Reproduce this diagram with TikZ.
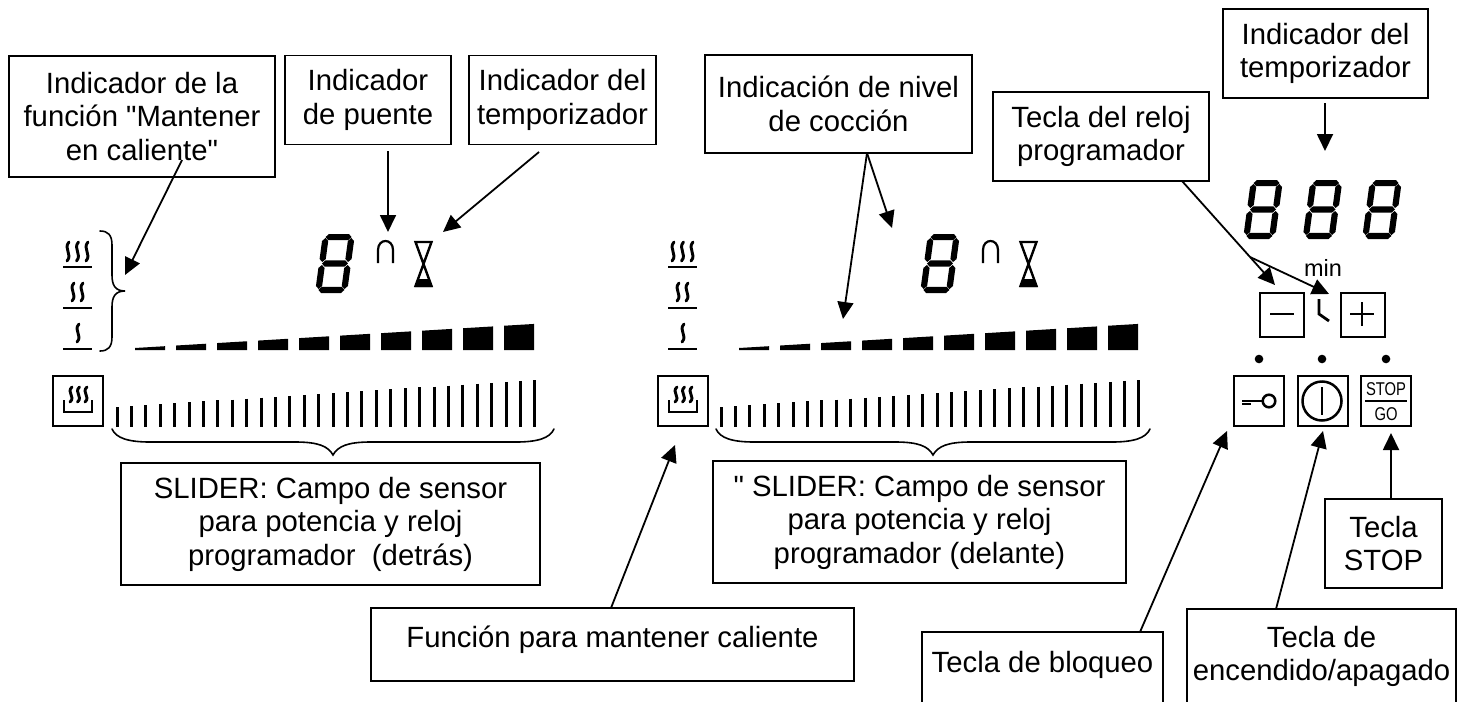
\documentclass[tikz,border=0pt]{standalone}
\usepackage{fontspec}
\setmainfont{Liberation Sans}
\newfontfamily\plainsans{Liberation Sans}
\usetikzlibrary{arrows.meta}
\tikzset{
  x=1pt,y=-1pt,
  labelbox/.style={draw=black,line width=1.9pt,rectangle,inner sep=0pt,outer sep=0pt,align=center,
     font=\plainsans\fontsize{29.3}{33.5}\selectfont,text=black},
  pointer/.style={draw=black,line width=1.8pt,-{Triangle[length=17pt,width=16pt]},shorten >=0pt},
  bracepath/.style={draw=black,line width=1.6pt,line cap=round},
  keybox/.style={draw=black,line width=2.7pt,fill=none},
  icon/.style={draw=black,line width=2.8pt},
  sliderline/.style={draw=black,line width=3pt},
}
% seven-segment digit, (#1,#2) = bottom-left corner
\newcommand\hsegm[3]{\fill (#1,#3) -- ++(3,-3.1) -- (#2-3,#3-3.1) -- (#2,#3) -- (#2-3,#3+3.1) -- (#1+3,#3+3.1) -- cycle;}
\newcommand\vsegm[3]{\fill (#1,#2) -- (#1+3.1,#2+3) -- (#1+3.1,#3-3) -- (#1,#3) -- (#1-3.1,#3-3) -- (#1-3.1,#2+3) -- cycle;}
\newcommand\dispdigit[2]{\begin{scope}[shift={(#1,#2)},xslant=.135]
  \hsegm{3}{29}{-55.9}\hsegm{3}{29}{-29.5}\hsegm{3}{29}{-3.1}
  \vsegm{3.1}{-55}{-31}\vsegm{28.9}{-55}{-31}\vsegm{3.1}{-28}{-4}\vsegm{28.9}{-28}{-4}
\end{scope}}
\newcommand\steamwave[3]{\draw[line width=2.9pt,line cap=round] (#1+1,#2) .. controls (#1-5,#2+.36*#3-.36*#2) and (#1+5,#2+.64*#3-.64*#2) .. (#1-1,#3);}
\newcommand\steamstack[1]{\begin{scope}[shift={(#1,0)}]
  \draw[icon] (63,267) -- (92,267); \draw[icon] (63,308) -- (92,308); \draw[icon] (63,349) -- (92,349);
  \steamwave{68}{242}{261}\steamwave{77.5}{242}{261}\steamwave{87}{242}{261}
  \steamwave{73}{283}{301}\steamwave{82}{283}{301}
  \steamwave{78}{324}{342}
  \draw[keybox] (53,376) rectangle (103,426);
  \steamwave{71}{387}{402}\steamwave{78.5}{387}{402}\steamwave{86}{387}{402}
  \draw[line width=2.5pt] (64,400) -- (64,412) -- (92,412) -- (92,400);
\end{scope}}
\newcommand\wedgebars[1]{\foreach \i in {0,...,9}{
  \pgfmathsetmacro\xl{#1+41*\i}\pgfmathsetmacro\xr{\xl+30}
  \pgfmathsetmacro\yl{348-0.0603*41*\i}\pgfmathsetmacro\yr{\yl-1.8}
  \fill (\xl,350) -- (\xl,\yl) -- (\xr,\yr) -- (\xr,350) -- cycle;}}
\newcommand\sliderlines[1]{\foreach \i in {0,...,29}{
  \pgfmathsetmacro\xs{#1+14.41*\i}\pgfmathsetmacro\yt{407-27*\i/29}
  \draw[sliderline] (\xs,\yt) -- (\xs,427);}}
\newcommand\lowbrace[3]{\draw[bracepath] (#1,429) .. controls (#1+4,438) and (#1+16,442) .. (#1+38,442)
  -- (#2-38,442) .. controls (#2-15,442) and (#2-5,446) .. (#2,455) .. controls (#2+5,446) and (#2+15,442) .. (#2+38,442)
  -- (#3-38,442) .. controls (#3-16,442) and (#3-4,438) .. (#3,429);}
\newcommand\bridgeglass[1]{\begin{scope}[shift={(#1,0)}]
  \draw[line width=2.2pt] (378,263) -- (378,250) .. controls (378,238) and (393,238) .. (393,250) -- (393,263);
  \draw[line width=2.4pt,line join=miter] (415.5,242) -- (431.5,242) -- (415.5,286) -- (431.5,286) -- cycle;
  \fill (418.5,279) -- (428.5,279) -- (432.5,287) -- (414.5,287) -- cycle;
\end{scope}}
\begin{document}
\begin{tikzpicture}
\clip (0,0) rectangle (1463,701);
\useasboundingbox (0,0) rectangle (1463,701);
% display elements, left zone
\steamstack{0}
\draw[bracepath] (100,231) .. controls (108,231) and (112,235) .. (112,245) -- (112,275)
  .. controls (112,285) and (115,291) .. (125,291) .. controls (115,291) and (112,297) .. (112,307)
  -- (112,337) .. controls (112,347) and (108,351) .. (100,351);
\dispdigit{315}{293}
\bridgeglass{0}
\wedgebars{135}
\sliderlines{117}
\lowbrace{112}{333}{554}
% display elements, centre zone
\steamstack{605}
\dispdigit{920}{293}
\bridgeglass{605}
\wedgebars{739}
\sliderlines{721}
\lowbrace{716}{933}{1150}
% right control field
\dispdigit{1243}{239}
\dispdigit{1302.5}{239}
\dispdigit{1362}{239}
\node[inner sep=0pt,font=\fontsize{23.5}{23.5}\selectfont] (minlabel) at (1323,268) {min};
\draw[keybox,line width=2.3pt] (1260,293) rectangle (1304,337);
\draw[icon] (1270,314) -- (1294,314);
\draw[keybox,line width=2.3pt] (1341,293) rectangle (1385,337);
\draw[icon] (1350,314) -- (1374,314) (1362,302) -- (1362,326);
\draw[icon] (1319,299) -- (1319,314) -- (1329,321);
\fill (1259,359) circle (4.3) (1322,359) circle (4.3) (1386,359) circle (4.3);
\draw[keybox] (1234,376) rectangle (1284,426);
\draw[line width=2.5pt] (1269,401) circle (6.3);
\draw[line width=2.5pt] (1242,401) -- (1263,401);
\draw[line width=2.5pt] (1242,404) -- (1251,404);
\draw[keybox] (1298,376) rectangle (1348,426);
\draw[line width=2.5pt] (1322,401) circle (19.5);
\draw[line width=2.5pt] (1322,387) -- (1322,415);
\draw[keybox] (1361,376) rectangle (1411,426);
\node[inner sep=0pt,font=\fontsize{18.5}{18.5}\selectfont] (stoplabel) at (1386,389) {\scalebox{.8}[1]{STOP}};
\draw[line width=1.6pt] (1365,401) -- (1407,401);
\node[inner sep=0pt,font=\fontsize{18.5}{18.5}\selectfont] (golabel) at (1386,414) {\scalebox{.8}[1]{GO}};
% label boxes
\node[labelbox,minimum width=266pt,minimum height=121pt] (mantener) at (142,116.5) {Indicador de la\\función "Mantener\\en caliente"};
\node[labelbox,minimum width=166pt,minimum height=89pt] (puente) at (368,100) {Indicador\\de puente};
\node[labelbox,minimum width=187pt,minimum height=89pt] (tempa) at (562.5,100) {Indicador del\\temporizador};
\node[labelbox,minimum width=267pt,minimum height=98pt] (nivel) at (838.5,104) {Indicación de nivel\\de cocción};
\node[labelbox,minimum width=216pt,minimum height=89pt] (reloj) at (1101,136.5) {Tecla del reloj\\programador};
\node[labelbox,minimum width=205pt,minimum height=89pt] (tempb) at (1325.5,53.5) {Indicador del\\temporizador};
\node[labelbox,minimum width=419pt,minimum height=122pt] (sliderA) at (330.5,524) {SLIDER: Campo de sensor\\para potencia y reloj\\programador\ \ (detrás)};
\node[labelbox,minimum width=413pt,minimum height=122pt] (sliderB) at (919.5,522) {" SLIDER: Campo de sensor\\para potencia y reloj\\programador (delante)};
\node[labelbox,minimum width=483pt,minimum height=73pt] (funcion) at (612.5,644.5) {Función para mantener caliente\\[-17pt]~};
\node[labelbox,minimum width=241pt,minimum height=126pt] (bloqueo) at (1042.5,695) {Tecla de bloqueo\\~\\~};
\node[labelbox,minimum width=269pt,minimum height=122pt] (encendido) at (1321.5,670) {Tecla de\\encendido/apagado\\~};
\node[labelbox,minimum width=117pt,minimum height=89pt] (stopkey) at (1383.5,543.5) {Tecla\\STOP};
% connector ends
\coordinate (mantS) at (182,160);   \coordinate (mantT) at (125,275);
\coordinate (puenS) at (388,151);   \coordinate (puenT) at (388,232);
\coordinate (tempaS) at (539,152);  \coordinate (tempaT) at (443,232);
\coordinate (nivS) at (867,153);    \coordinate (nivT1) at (843,319); \coordinate (nivT2) at (892,228);
\coordinate (relS) at (1182,181);   \coordinate (relE) at (1250,257);
\coordinate (relT1) at (1275,285);  \coordinate (relT2) at (1329,294);
\coordinate (tempbS) at (1325,103); \coordinate (tempbT) at (1325,151);
\coordinate (funS) at (611,608);    \coordinate (funT) at (675,445);
\coordinate (bloS) at (1140,632);   \coordinate (bloT) at (1227,431);
\coordinate (encS) at (1276,609);   \coordinate (encT) at (1323,431);
\coordinate (stoS) at (1391,499);   \coordinate (stoT) at (1391,433);
% connectors
\draw[pointer] (mantS) -- (mantT);
\draw[pointer] (puenS) -- (puenT);
\draw[pointer] (tempaS) -- (tempaT);
\draw[pointer] (nivS) -- (nivT1);
\draw[pointer] (nivS) -- (nivT2);
\draw[draw=black,line width=1.8pt] (relS) -- (relE);
\draw[pointer] (relE) -- (relT1);
\draw[pointer] (relE) -- (relT2);
\draw[pointer] (tempbS) -- (tempbT);
\draw[pointer] (funS) -- (funT);
\draw[pointer] (bloS) -- (bloT);
\draw[pointer] (encS) -- (encT);
\draw[pointer] (stoS) -- (stoT);
\end{tikzpicture}
\end{document}
